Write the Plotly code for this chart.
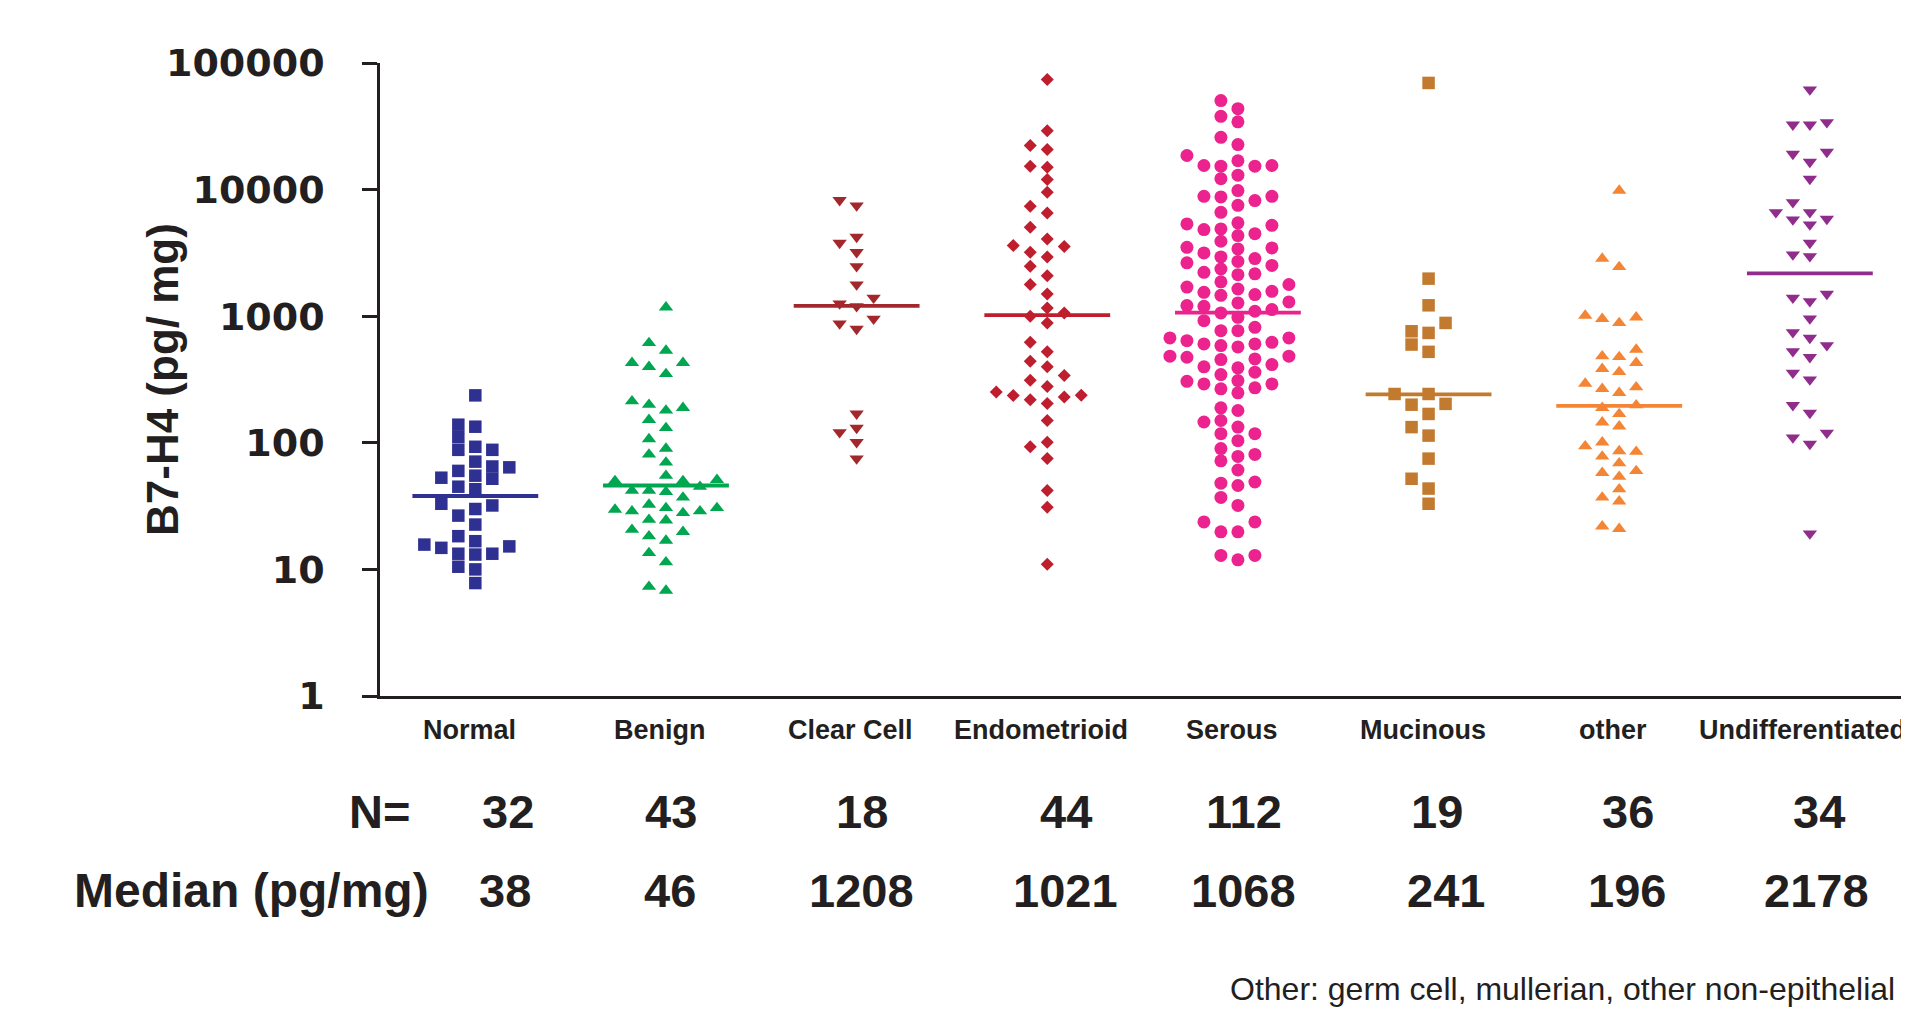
import numpy as np
import plotly.graph_objects as go

# ---------------- data ----------------
categories = ["Normal", "Benign", "Clear Cell", "Endometrioid", "Serous",
              "Mucinous", "other", "Undifferentiated"]
n_counts = [32, 43, 18, 44, 112, 19, 36, 34]
medians = [38, 46, 1208, 1021, 1068, 241, 196, 2178]
y_tick_values = [1, 10, 100, 1000, 10000, 100000]
y_tick_labels = ["1", "10", "100", "1000", "10000", "100000"]

normal = [237, 139, 134, 111, 93, 88, 88, 71, 65, 64, 60, 55, 52, 53, 43, 45,
          33, 30, 32, 26.6, 22.6, 18.3, 15.7, 14.8, 13.3, 13.1, 13.3, 15.2,
          16.7, 10.5, 10, 7.8]

benign = [1175, 615, 535, 428, 398, 428, 350, 213, 200, 189, 180, 152, 131,
          107, 90, 81, 70, 55, 51, 50, 50, 45, 42, 41, 42, 37, 32.5, 29.7,
          28.8, 30.6, 27.9, 28.8, 30.6, 24.7, 24.4, 19.8, 20.6, 18.3, 16.9,
          13.5, 11.4, 6.8, 7.3]

clear_cell = [8240, 7480, 4230, 3790, 3200, 2480, 1777, 1396, 1198, 1259, 875,
              794, 953, 170, 121, 131, 101, 75]

endometrioid = [74000, 29200, 22300, 20700, 15000, 15300, 12000, 9530, 7390,
                6540, 5040, 4080, 3560, 3610, 3200, 2940, 2480, 2090, 1777,
                1500, 1162, 998, 1062, 885, 622, 523, 440, 398, 340, 312, 279,
                252, 236, 219, 230, 237, 204, 150, 93, 101, 75, 42, 31, 11]

serous = [50500, 43600, 37900, 34300, 25900, 22700, 18600, 15500, 15500, 13000,
          15300, 15300, 12200, 16900, 9820, 8850, 8750, 7510, 8190, 8850, 6620,
          5460, 5220, 4830, 4890, 5360, 4490, 4330, 3910, 3400, 3500, 3460,
          3160, 2940, 2710, 2520, 2640, 2850, 2360, 2130, 2160, 2220, 1870,
          1780, 1700, 1640, 1545, 1463, 1482, 1573, 1273, 1297, 1197, 1213,
          1128, 1094, 1062, 980, 922, 769, 769, 817, 604, 572, 674, 604, 641,
          674, 586, 622, 460, 415, 483, 391, 474, 483, 398, 454, 346, 361, 306,
          292, 267, 248, 272, 292, 310, 180, 189, 146, 150, 133, 118, 118, 104,
          81, 72, 78, 90, 61, 48, 46, 49, 37, 32, 23.7, 19.8, 19.8, 23.7, 12.9,
          11.9, 12.9]

mucinous = [69600, 1980, 1219, 885, 760, 738, 597, 523, 243, 243, 203, 200,
            169, 133, 114, 75, 52, 43.5, 33]

other = [9820, 2850, 2450, 1011, 953, 885, 980, 545, 477, 483, 428, 384, 363,
         294, 267, 275, 248, 198, 189, 169, 135, 145, 94, 85, 78, 86, 101, 60,
         54, 58, 69, 43, 37, 34.5, 20.9, 21.9]

undifferentiated = [61700, 32600, 32600, 34000, 19850, 19150, 16550, 12140,
                    7940, 6620, 5800, 5290, 5870, 6620, 3790, 2970, 3070, 1396,
                    1312, 1500, 957, 746, 674, 589, 474, 528, 357, 316, 198,
                    172, 110, 98, 120, 19.2]

groups = [normal, benign, clear_cell, endometrioid, serous, mucinous, other,
          undifferentiated]

# ---------------- styles ----------------
colors = ["#2E3192", "#00A650", "#A3282B", "#BE1E2D", "#EC228F", "#C27A2E",
          "#F48534", "#8F2C8C"]
symbols = ["square", "triangle-up", "triangle-down", "diamond", "circle",
           "square", "triangle-up", "triangle-down"]
sizes = [12.5, 12.5, 12.5, 10, 13, 12.5, 12.5, 12.5]
TXT = "#231F20"
SANS = "Liberation Sans, Arial, sans-serif"

# page has an 8px body margin; figure coordinates = page coordinates - 8
OFF = 8
W, H = 1909 - OFF, 1011 - OFF
L, T = 380 - OFF, 63 - OFF
PLOT_BOTTOM = 696 - OFF
R, B = 0, H - PLOT_BOTTOM
PW, PH = W - L - R, H - T - B


def px(xp):
    return (xp - OFF - L) / PW


def py(yp):
    return (PLOT_BOTTOM - (yp - OFF)) / PH


def beeswarm(values, step, dy):
    logs = np.log10(np.asarray(values, dtype=float))
    order = np.argsort(logs, kind="stable")
    placed = {}
    offs = np.zeros(len(values))
    cand = [0]
    for j in range(1, 30):
        cand += [-j, j]
    for idx in order:
        ly = logs[idx]
        for c in cand:
            if all(abs(ly - p) >= dy for p in placed.get(c, [])):
                placed.setdefault(c, []).append(ly)
                offs[idx] = c * step
                break
    return offs


fig = go.Figure()
step = 17.0 / 190.7
dy = 12.0 / 126.6
for i, vals in enumerate(groups):
    offs = beeswarm(vals, step, dy)
    fig.add_trace(go.Scatter(
        x=i + offs, y=vals, mode="markers", name=categories[i],
        marker=dict(symbol=symbols[i], size=sizes[i], color=colors[i],
                    line=dict(width=0)),
        cliponaxis=False, hoverinfo="y+name"))

for i, m in enumerate(medians):
    fig.add_trace(go.Scatter(
        x=[i - 0.33, i + 0.33], y=[m, m], mode="lines",
        line=dict(color=colors[i], width=3.8), hoverinfo="skip"))

annotations = []
# y-axis title
annotations.append(dict(
    text="B7-H4 (pg/ mg)", textangle=-90, xref="paper", yref="paper",
    x=px(162), y=py(380), xanchor="center", yanchor="middle", showarrow=False,
    font=dict(family=SANS, size=44, color=TXT, weight="bold")))

# category labels (as text under the axis)
for i, c in enumerate(categories):
    if i < len(categories) - 1:
        annotations.append(dict(
            text=c, xref="x", yref="paper", x=i, xshift=-6, y=py(730),
            xanchor="center", yanchor="middle", showarrow=False,
            font=dict(family=SANS, size=27, color=TXT, weight="bold")))
    else:
        annotations.append(dict(
            text=c, xref="paper", yref="paper", x=1.0, xshift=-1, y=py(730),
            xanchor="right", yanchor="middle", showarrow=False,
            font=dict(family=SANS, size=27, color=TXT, weight="bold")))

# N row and median row
n_x = [508, 671, 862, 1066, 1244, 1437, 1628, 1819]
med_x = [505, 670, 861, 1065, 1243, 1446, 1627, 1816]
annotations.append(dict(
    text="N=", xref="paper", yref="paper", x=px(412), y=py(811),
    xanchor="right", yanchor="middle", showarrow=False,
    font=dict(family=SANS, size=47, color=TXT, weight="bold")))
for xp, n in zip(n_x, n_counts):
    annotations.append(dict(
        text=str(n), xref="paper", yref="paper", x=px(xp), y=py(811),
        xanchor="center", yanchor="middle", showarrow=False,
        font=dict(family=SANS, size=47, color=TXT, weight="bold")))
annotations.append(dict(
    text="Median (pg/mg)", xref="paper", yref="paper", x=px(72), y=py(890),
    xanchor="left", yanchor="middle", showarrow=False,
    font=dict(family=SANS, size=48, color=TXT, weight="bold")))
for xp, m in zip(med_x, medians):
    annotations.append(dict(
        text=str(m), xref="paper", yref="paper", x=px(xp), y=py(890),
        xanchor="center", yanchor="middle", showarrow=False,
        font=dict(family=SANS, size=47, color=TXT, weight="bold")))
annotations.append(dict(
    text="Other: germ cell, mullerian, other non-epithelial", xref="paper",
    yref="paper", x=px(1897), y=py(989), xanchor="right", yanchor="middle",
    showarrow=False, font=dict(family=SANS, size=32, color=TXT)))

fig.update_layout(
    width=W, height=H, margin=dict(l=L, r=R, t=T, b=B, pad=0),
    paper_bgcolor="white", plot_bgcolor="white", showlegend=False,
    annotations=annotations,
    xaxis=dict(range=[-0.5, 7.52], tickmode="array",
               tickvals=list(range(len(categories))), ticktext=categories,
               showticklabels=False,
               showline=True, linecolor=TXT, linewidth=2.5, ticks="",
               showgrid=False, zeroline=False),
    yaxis=dict(type="log", range=[0, 5], tickmode="array",
               tickvals=y_tick_values, ticktext=y_tick_labels,
               showline=True, linecolor=TXT, linewidth=2.5, ticks="outside",
               ticklen=15, tickwidth=2.5, tickcolor=TXT, showgrid=False,
               zeroline=False, ticklabelstandoff=30,
               tickfont=dict(family="DejaVu Sans, sans-serif", size=38,
                             color=TXT, weight="bold")),
)

fig.write_html("out.html")
